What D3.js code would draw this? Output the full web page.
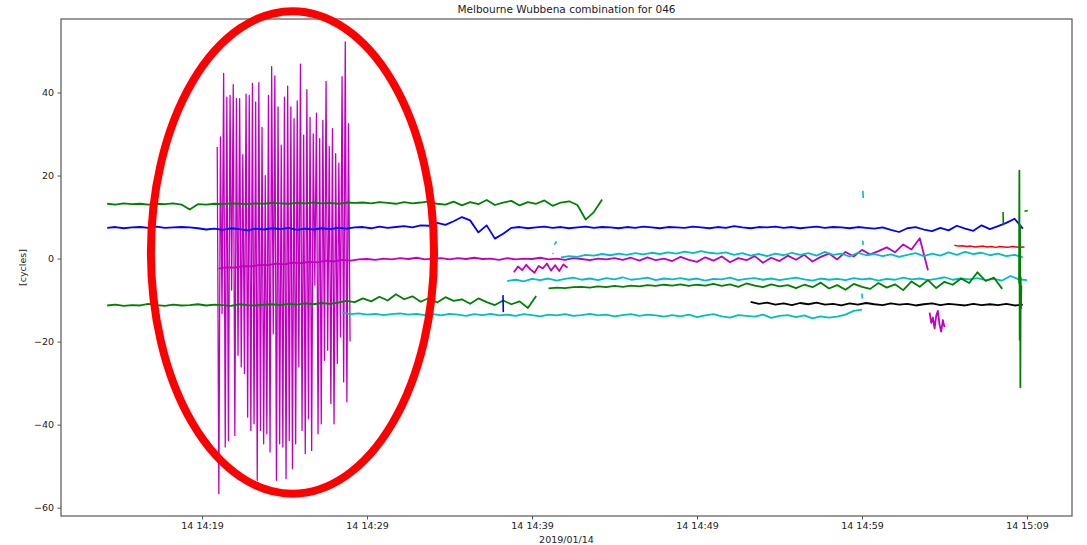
<!DOCTYPE html>
<html><head><meta charset="utf-8">
<script src="https://cdn.jsdelivr.net/npm/d3@7"></script>
<style>
body{margin:0;background:#fff;}
svg{display:block;}
text{font-family:"DejaVu Sans",sans-serif;fill:#222;}
</style>
</head><body>
<svg id="chart" width="1087" height="545"></svg>
<script>
// ---------- DATA (times in minutes after 2019-01-14 14:19:00) ----------
const titleText = "Melbourne Wubbena combination for 046";
const yLabelText = "[cycles]";
const xLabelText = "2019/01/14";
const xTickMinutes = [0, 10, 20, 30, 40, 50];
const xTickLabels = ["14 14:19", "14 14:29", "14 14:39", "14 14:49", "14 14:59", "14 15:09"];
const yTickValues = [-60, -40, -20, 0, 20, 40];
const yTickLabels = ["\u221260", "\u221240", "\u221220", "0", "20", "40"];
const xDomainMinutes = [-8.55, 52.73];
const yDomain = [-62.0, 57.7];

// magenta oscillation (alternating high / low epochs)
const oscStart = 0.92, oscStep = 0.097;
const oscValues = [26.9,-56.6,29.3,-13.3,44.6,-45.4,38.9,-43.8,39.3,-7.6,41.9,-42.6,38.5,-23.3,38.5,-26.1,25,-27.7,39.6,-38.2,39.3,-41.4,42.2,-39.8,37.7,-53.4,42.4,-41.4,31.6,-44.6,20,-42.2,39.3,-46.6,46.2,-18.1,44.0,-53.4,36.5,-44.6,27.3,-45.4,38.9,-53.0,41.5,-43.8,36.5,-50.6,33.7,-44.6,38.0,-26.1,46.8,-41.4,29.7,-47.0,40.7,-38.6,34.0,-46.2,30,-6.4,35.0,-42.2,28.9,-39.8,33.3,-24.5,42.7,-22.1,27,-34.9,31.3,-39.8,25.3,-25.3,23,-18.9,43.8,-29.7,52.2,-34.5,32.5,-20];

const greenTopStart = -5.75, greenTopStep = 0.5;
const greenTopValues = [13.2,13.0,13.3,13.1,13.2,13.0,13.2,13.1,13.3,13.0,
  11.8,
  13.1,13.0,13.2,13.1,13.3,13.2,13.1,13.3,13.2,13.4,
  13.3,13.2,13.4,13.3,13.5,13.3,13.4,13.2,13.5,13.4,
  13.5,13.3,13.6,13.4,13.2,13.6,13.3,13.5,13.8,13.2,
  13.0,13.7,12.8,13.6,13.1,14.1,12.9,13.5,13.9,12.8,
  13.6,13.2,14.0,12.7,13.5,13.8,12.9,9.4,11.2,14.2];

const blueStart = -5.75, blueStep = 0.5;
const blueValues = [7.4,7.6,7.3,7.5,7.6,7.4,7.7,7.4,7.5,7.6,
  7.5,7.3,7.0,7.2,6.9,7.3,7.1,6.8,7.2,7.0,
  7.3,7.1,7.4,6.9,7.2,7.0,7.3,7.1,7.4,7.2,
  7.5,7.6,7.3,7.7,7.4,7.6,7.8,7.5,8.0,7.9,
  8.6,8.1,9.0,10.0,9.2,6.3,8.0,4.8,6.0,7.4,
  7.6,7.3,7.5,7.7,7.4,7.6,7.3,7.5,7.7,7.4,
  7.6,7.5,7.3,7.6,7.4,7.7,7.5,7.3,7.6,7.5,
  7.4,7.7,7.5,7.3,7.6,7.4,7.8,7.5,7.3,7.6,
  7.5,7.7,7.4,7.6,7.3,7.5,7.7,7.4,7.6,7.5,
  7.3,7.6,7.4,7.2,7.5,6.9,6.4,7.3,7.6,7.0,
  6.6,7.4,6.8,7.9,7.2,6.7,8.0,7.1,7.8,8.6,
  9.6,7.2];

const greenLowStart = -5.75, greenLowStep = 0.5;
const greenLowValues = [-11.3,-11.1,-11.4,-11.2,-11.3,-10.9,-11.2,-11.4,-11.1,-11.3,
  -11.2,-11.0,-11.3,-11.1,-11.2,-11.4,-11.0,-11.2,-11.3,-11.1,
  -11.0,-11.2,-10.9,-11.1,-10.8,-11.0,-10.7,-10.9,-10.6,-10.2,
  -10.5,-9.6,-10.3,-9.2,-10.1,-8.6,-9.8,-9.1,-10.4,-9.5,
  -10.6,-9.3,-10.2,-9.8,-10.9,-9.6,-10.5,-11.2,-10.1,-11.0,
  -10.3,-11.9,-9.0];

const cyanLowStart = 8.5, cyanLowStep = 0.5;
const cyanLowValues = [-13.0,-13.4,-13.2,-13.5,-13.3,-13.6,-13.4,-13.2,-13.5,-13.3,
  -13.6,-13.4,-13.7,-13.3,-13.5,-13.8,-13.4,-13.6,-13.3,-13.7,
  -13.5,-13.8,-13.4,-13.6,-13.9,-13.5,-13.7,-13.4,-13.8,-13.6,
  -13.3,-13.7,-13.5,-13.9,-13.6,-13.4,-13.8,-13.5,-13.7,-14.0,
  -13.6,-13.9,-13.5,-14.1,-13.7,-13.4,-13.9,-14.2,-13.6,-13.8,
  -14.0,-13.5,-14.3,-13.8,-13.6,-14.1,-13.7,-14.4,-13.9,-14.2,
  -14.0,-13.5,-12.6,-12.3];

const magentaStart = 1.0, magentaStep = 0.5;
const magentaValues = [-2.4,-2.1,-2.2,-1.8,-1.9,-1.5,-1.6,-1.2,-1.4,-1.0,
  -1.1,-0.8,-0.9,-0.5,-0.7,-0.3,-0.5,-0.2,-0.1,-0.3,
  0.0,-0.2,0.1,-0.1,0.2,-0.2,0.0,0.1,-0.2,0.1,
  -0.1,0.2,-0.1,0.0,-0.3,0.1,-0.2,0.0,-0.1,0.2,
  -0.2,0.0,-0.3,0.1,-0.1,-0.4,0.0,-0.2,0.1,-0.3,
  0.2,-0.5,0.3,-0.4,0.0,-0.6,0.4,-0.3,-0.8,0.3,
  -0.5,0.5,-0.9,0.1,-0.4,0.6,-1.0,0.2,-0.6,0.7,
  -0.3,0.9,-0.7,0.4,1.2,-0.2,1.6,0.5,2.1,1.0,
  1.8,2.7,1.5,3.4,2.2,4.9,-2.8];

const magentaSegStart = 18.9, magentaSegStep = 0.25;
const magentaSegValues = [-3.3,-1.9,-2.8,-1.5,-2.6,-3.4,-1.8,-2.4,-1.2,-2.9,-1.6,-3.0,-1.4,-2.2];

const magentaBlobStart = 44.1, magentaBlobStep = 0.1;
const magentaBlobValues = [-13.0,-15.5,-14.2,-16.8,-13.8,-12.6,-15.9,-17.6,-14.8,-16.5];

const cyanUpStart = 21.75, cyanUpStep = 0.5;
const cyanUpValues = [0.3,0.6,0.4,0.9,0.7,1.1,0.8,1.2,0.9,1.3,
  1.0,1.4,1.1,1.5,1.2,1.7,1.3,1.8,1.4,1.2,
  1.5,0.9,1.3,0.7,1.1,0.6,1.2,0.8,1.4,0.9,
  1.3,0.7,1.6,0.9,1.2,0.5,1.4,0.8,1.1,0.6,
  1.0,0.4,0.9,1.3,0.6,1.2,0.7,1.5,0.9,1.6,
  1.1,1.4,0.8,1.2,0.6,0.9,0.3];

const cyanMidStart = 18.5, cyanMidStep = 0.5;
const cyanMidValues = [-5.4,-5.1,-5.5,-4.9,-5.2,-4.8,-5.3,-4.9,-4.6,-5.1,
  -4.8,-5.2,-4.7,-5.0,-4.5,-5.1,-4.9,-4.6,-5.2,-4.8,
  -5.0,-4.7,-5.1,-4.8,-5.3,-4.9,-5.0,-4.6,-5.2,-4.9,
  -4.7,-5.1,-4.8,-5.2,-4.9,-4.6,-5.0,-5.3,-4.8,-5.1,
  -4.9,-5.2,-4.7,-5.0,-4.8,-5.3,-4.9,-5.1,-4.6,-5.0,
  -4.8,-5.2,-4.9,-4.5,-5.1,-4.8,-5.0,-4.7,-5.2,-4.9,
  -5.3,-4.2,-5.0,-5.2];

const greenMidStart = 21.0, greenMidStep = 0.5;
const greenMidValues = [-7.2,-7.0,-7.1,-6.9,-6.8,-7.0,-6.7,-6.9,-6.6,-6.8,
  -6.5,-6.7,-6.4,-6.6,-6.3,-6.5,-6.2,-6.6,-6.3,-6.5,
  -6.1,-6.6,-6.2,-6.8,-6.0,-6.5,-6.9,-6.2,-6.7,-6.4,
  -7.1,-6.3,-6.9,-5.8,-7.2,-6.4,-7.5,-6.1,-6.8,-7.3,
  -5.9,-7.0,-6.2,-7.6,-5.5,-6.8,-5.2,-7.1,-5.6,-6.3,
  -4.8,-5.9,-3.3,-5.4,-4.6,-7.3];

const blackStart = 33.25, blackStep = 0.5;
const blackValues = [-10.4,-10.9,-10.6,-11.1,-10.8,-11.2,-10.7,-11.0,-10.6,-11.1,
  -10.9,-11.3,-10.8,-11.1,-10.7,-11.0,-11.2,-10.8,-11.1,-10.9,
  -11.3,-11.0,-10.8,-11.2,-10.9,-11.1,-11.3,-10.9,-11.2,-11.0,
  -11.2,-10.9,-11.3,-11.1];

const redStart = 45.6, redStep = 0.25;
const redValues = [3.2,3.0,3.1,2.9,3.0,2.8,2.9,3.0,2.8,2.9,2.7,2.9,2.8,2.7,2.9,2.8,2.7,2.8];

const greenSpikeStart = 49.52, greenSpikeStep = 0.02;
const greenSpikeValues = [-6.0, 21.2, -19.6, 8.0, -31.0, -4.5, -12.0, -6.5];

// short fragments: [time0, value0, time1, value1]
const cyanBits = [[21.25, 1.3, 21.3, 1.1], [21.35, 3.4, 21.5, 4.1], [40.05, 16.3, 40.08, 14.6], [40.05, 4.3, 40.07, 3.3], [40.0, -8.4, 40.02, -9.6]];
const greenBits = [[48.55, 11.2, 48.57, 8.0], [49.85, 11.4, 50.05, 11.6]];
const blueBits = [[18.24, -8.8, 18.26, -12.9]];

// annotation ellipse (data units): centre [min, value], radii [min, value]
const ellipseCenter = [5.48, 1.47];
const ellipseRadii = [8.58, 58.1];

// ---------- CHART ----------
const W = 1087, H = 545;
const M = {left: 61, right: 1072, top: 19, bottom: 516};
const base = new Date(2019, 0, 14, 14, 19, 0).getTime();
const toDate = m => new Date(base + m * 60000);

const x = d3.scaleTime().domain(xDomainMinutes.map(toDate)).range([M.left, M.right]);
const y = d3.scaleLinear().domain(yDomain).range([M.bottom, M.top]);

const svg = d3.select("#chart");

function mk(start, step, vals) { return vals.map((v, i) => ({t: start + i * step, v})); }

const C = {g: "#008000", b: "#0000ff", m: "#bf00bf", c: "#00bfbf", k: "#000000", r: "#ff0000"};

const series = [
  {d: mk(oscStart, oscStep, oscValues), c: C.m, w: 1.3},
  {d: mk(greenTopStart, greenTopStep, greenTopValues), c: C.g, w: 1.8},
  {d: mk(blueStart, blueStep, blueValues), c: C.b, w: 1.8},
  {d: mk(greenLowStart, greenLowStep, greenLowValues), c: C.g, w: 1.8},
  {d: mk(magentaStart, magentaStep, magentaValues), c: C.m, w: 1.8},
  {d: mk(cyanLowStart, cyanLowStep, cyanLowValues), c: C.c, w: 1.8},
  {d: mk(magentaSegStart, magentaSegStep, magentaSegValues), c: C.m, w: 1.8},
  {d: mk(cyanMidStart, cyanMidStep, cyanMidValues), c: C.c, w: 1.8},
  {d: mk(cyanUpStart, cyanUpStep, cyanUpValues), c: C.c, w: 1.8},
  {d: mk(greenMidStart, greenMidStep, greenMidValues), c: C.g, w: 1.8},
  {d: mk(blackStart, blackStep, blackValues), c: C.k, w: 1.8},
  {d: mk(magentaBlobStart, magentaBlobStep, magentaBlobValues), c: C.m, w: 1.8},
  {d: mk(redStart, redStep, redValues), c: C.r, w: 1.5},
  {d: mk(greenSpikeStart, greenSpikeStep, greenSpikeValues), c: C.g, w: 1.8}
];
cyanBits.forEach(b => series.push({d: [{t: b[0], v: b[1]}, {t: b[2], v: b[3]}], c: C.c, w: 1.6}));
greenBits.forEach(b => series.push({d: [{t: b[0], v: b[1]}, {t: b[2], v: b[3]}], c: C.g, w: 1.6}));
blueBits.forEach(b => series.push({d: [{t: b[0], v: b[1]}, {t: b[2], v: b[3]}], c: C.b, w: 1.6}));

const line = d3.line().x(d => x(toDate(d.t))).y(d => y(d.v));

const gLines = svg.append("g");
series.forEach(s => {
  gLines.append("path").datum(s.d)
    .attr("d", line).attr("fill", "none")
    .attr("stroke", s.c).attr("stroke-width", s.w)
    .attr("stroke-linejoin", "round");
});

// frame
svg.append("rect").attr("x", M.left).attr("y", M.top)
  .attr("width", M.right - M.left).attr("height", M.bottom - M.top)
  .attr("fill", "none").attr("stroke", "#555").attr("stroke-width", 1.2);

// axes
const xAxis = d3.axisBottom(x).tickValues(xTickMinutes.map(toDate))
  .tickFormat((d, i) => xTickLabels[i]).tickSize(3.5).tickPadding(3);
const gx = svg.append("g").attr("transform", `translate(0,${M.bottom})`).call(xAxis);
gx.select(".domain").remove();
gx.selectAll("line").attr("stroke", "#555");
gx.selectAll("text").attr("font-size", 9.5).attr("fill", "#333").attr("font-family", "DejaVu Sans");

const yAxis = d3.axisLeft(y).tickValues(yTickValues)
  .tickFormat((d, i) => yTickLabels[i]).tickSize(3.5).tickPadding(3.5);
const gy = svg.append("g").attr("transform", `translate(${M.left},0)`).call(yAxis);
gy.select(".domain").remove();
gy.selectAll("line").attr("stroke", "#555");
gy.selectAll("text").attr("font-size", 9.5).attr("fill", "#333").attr("font-family", "DejaVu Sans");

// labels
svg.append("text").attr("x", (M.left + M.right) / 2).attr("y", 13)
  .attr("text-anchor", "middle").attr("font-size", 10.5).text(titleText);
svg.append("text").attr("x", (M.left + M.right) / 2).attr("y", 543)
  .attr("text-anchor", "middle").attr("font-size", 9.5).text(xLabelText);
svg.append("text").attr("transform", `translate(26,${(M.top + M.bottom) / 2}) rotate(-90)`)
  .attr("text-anchor", "middle").attr("font-size", 9.5).text(yLabelText);

// red annotation ellipse
const ecx = x(toDate(ellipseCenter[0])), ecy = y(ellipseCenter[1]);
svg.append("ellipse")
  .attr("cx", ecx).attr("cy", ecy)
  .attr("rx", x(toDate(ellipseCenter[0] + ellipseRadii[0])) - ecx)
  .attr("ry", y(ellipseCenter[1] - ellipseRadii[1]) - ecy)
  .attr("fill", "none").attr("stroke", "#ff0000").attr("stroke-width", 8);
</script>
</body></html>
